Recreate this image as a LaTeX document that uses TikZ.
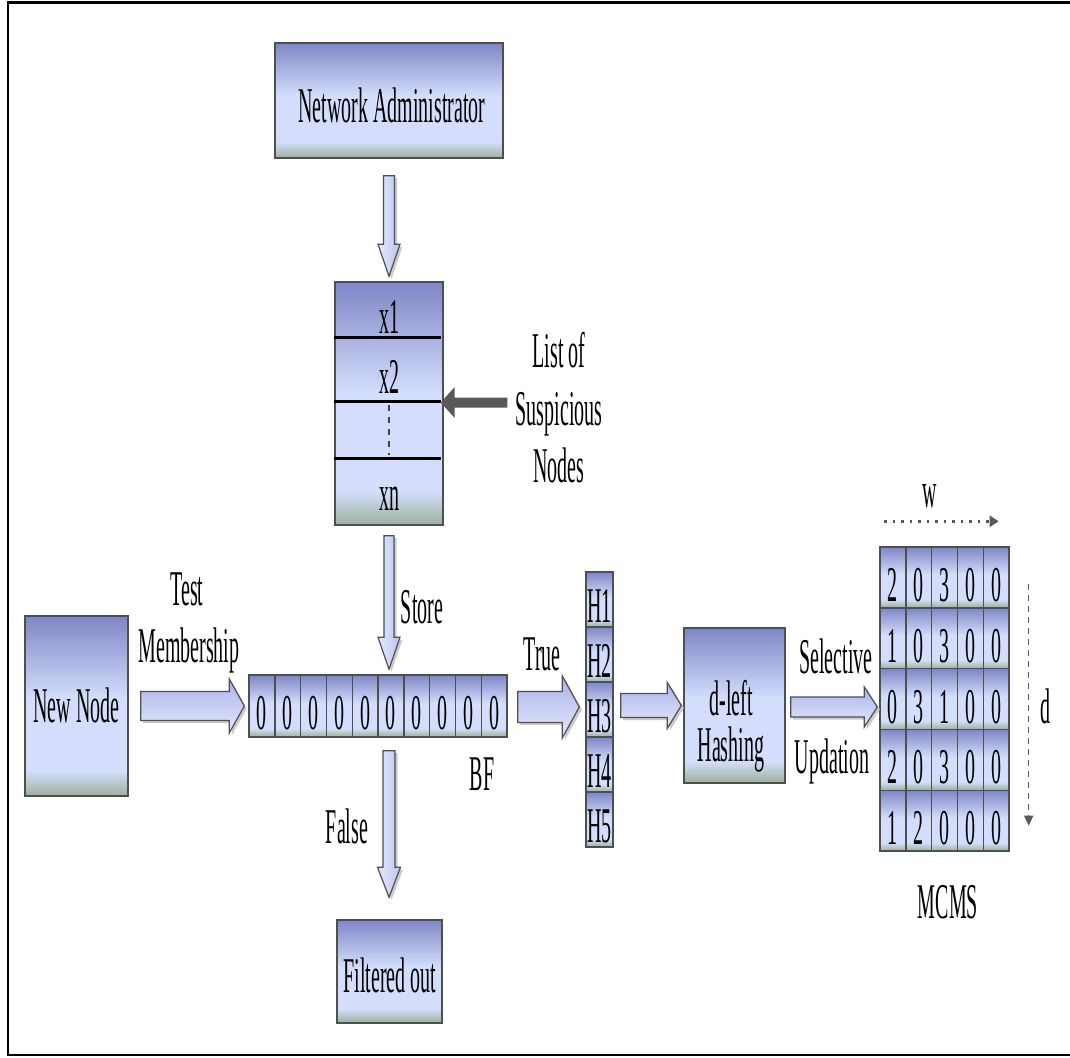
\documentclass[tikz,border=0pt]{standalone}
\usepackage{fontspec}
\setmainfont{Liberation Serif}[FakeStretch=0.40]
\usetikzlibrary{calc,arrows.meta}
\definecolor{bxtop}{HTML}{7F86C6}
\definecolor{bxlight}{HTML}{D4DEFC}
\definecolor{bxbot}{HTML}{9CB09C}
\definecolor{bxline}{HTML}{4F4F4F}
\definecolor{artop}{HTML}{ABB3EA}
\definecolor{arbot}{HTML}{E4E9FD}
\definecolor{grayarrow}{HTML}{595959}
\pgfdeclareverticalshading{boxshade}{100bp}{color(0bp)=(bxbot); color(25bp)=(bxbot); color(32bp)=(bxlight); color(52bp)=(bxlight); color(75bp)=(bxtop); color(100bp)=(bxtop)}
\tikzset{
  box/.style={draw=bxline, line width=1.4pt, shade, shading=boxshade, inner sep=0pt},
  lbl/.style={anchor=base, inner sep=0pt, font=\fontsize{50}{56}\selectfont},
  barrow/.style={draw=bxline, line width=1.2pt, line join=miter},
  hshade/.style={top color=artop, bottom color=arbot},
  vshade/.style={left color=arbot, right color=artop!70!arbot},
  ashadow/.style={fill=black!20},
}
% #1 style, #2 start, #3 tip, #4 shaft half width, #5 head half width, #6 head length
\newcommand\blockarr[6]{%
  \coordinate (ba-s) at #2;
  \coordinate (ba-t) at #3;
  \coordinate (ba-h) at ($(ba-t)!#6pt!(ba-s)$);
  \path[ashadow, transform canvas={shift={(2.5pt,-2.5pt)}}]
    ($(ba-s)!#4pt!90:(ba-t)$) -- ($(ba-h)!#4pt!90:(ba-t)$) -- ($(ba-h)!#5pt!90:(ba-t)$) -- (ba-t)
    -- ($(ba-h)!#5pt!-90:(ba-t)$) -- ($(ba-h)!#4pt!-90:(ba-t)$) -- ($(ba-s)!#4pt!-90:(ba-t)$) -- cycle;
  \path[#1]
    ($(ba-s)!#4pt!90:(ba-t)$) -- ($(ba-h)!#4pt!90:(ba-t)$) -- ($(ba-h)!#5pt!90:(ba-t)$) -- (ba-t)
    -- ($(ba-h)!#5pt!-90:(ba-t)$) -- ($(ba-h)!#4pt!-90:(ba-t)$) -- ($(ba-s)!#4pt!-90:(ba-t)$) -- cycle;
}
\begin{document}
\begin{tikzpicture}[x=1pt,y=-1pt]
\useasboundingbox (0,0) rectangle (1070,1057);
\fill[white] (0,0) rectangle (1070,1057);
% frame
\draw[line width=3pt] (1070,2.5) -- (6.5,2.5);
\draw[line width=2pt] (7.5,1.5) -- (7.5,1055);
\draw[line width=2pt] (6.5,1055) -- (1070,1055);

% Network Administrator
\node[box, minimum width=228pt, minimum height=115pt] (na) at (389,100.5) {};
\node[lbl] (na-t) at (392,122) {Network Administrator};

% list of suspicious nodes
\node[box, minimum width=108pt, minimum height=243pt] (list) at (389,403.5) {};
\draw[line width=2.5pt] ($(list.north west)+(0,56)$) -- ($(list.north east)+(-3,56)$);
\draw[line width=2.5pt] ($(list.north west)+(0,120)$) -- ($(list.north east)+(-3,120)$);
\draw[line width=2.5pt] ($(list.north west)+(0,177)$) -- ($(list.north east)+(-3,177)$);
\draw[black!75, line width=1.2pt, dash pattern=on 6pt off 6pt] ($(list.north)+(0,124)$) -- ($(list.north)+(0,174)$);
\node[lbl] (x1) at (389,333) {x1};
\node[lbl] (x2) at (389,393) {x2};
\node[lbl] (xn) at (389,510) {xn};
\node[lbl] (lst1) at (559,367) {List of};
\node[lbl] (lst2) at (559,425) {Suspicious};
\node[lbl] (lst3) at (559,482) {Nodes};
\coordinate (gs) at ($(lst2.west)+(-8,0)$);
\begin{scope}[ashadow/.style={}]
\blockarr{fill=grayarrow}{(gs |- 0,402.5)}{($(list.east)+(-3,-1)$)}{5}{15.5}{14}
\end{scope}

% New node
\node[box, minimum width=103pt, minimum height=180pt] (newnode) at (76.5,706) {};
\node[lbl] (newnode-t) at (76.5,722) {New Node};
\node[lbl] (test1) at (187,605) {Test};
\node[lbl] (test2) at (189,662) {Membership};

% Bloom filter
\foreach \i in {0,...,9}{
  \node[box, minimum width=25.8pt, minimum height=62pt] (bf\i) at ({249+25.8*(\i+0.5)},706) {};
  \node[lbl] (bf\i t) at ($(bf\i.center)+(0,23)$) {0};
}
\node[lbl] (store) at (422,623) {Store};
\node[lbl] (bflbl) at (482,790) {BF};
\node[lbl] (false) at (347,843) {False};

% Filtered out
\node[box, minimum width=105pt, minimum height=103pt] (filt) at (389.5,971.5) {};
\node[lbl] (filt-t) at (390,992) {Filtered out};

% hash functions
\foreach \j in {1,...,5}{
  \node[box, minimum width=27pt, minimum height=55pt] (h\j) at (599.5,{572+55*(\j-0.5)}) {};
  \node[lbl] (h\j t) at ($(h\j.center)+(0,23)$) {H\j};
}
\node[lbl] (true) at (542,670) {True};

% d-left hashing
\node[box, minimum width=101pt, minimum height=155pt] (dleft) at (734.5,705.5) {};
\node[lbl] (dleft-t1) at (731,715) {d-left};
\node[lbl] (dleft-t2) at (731,761) {Hashing};
\node[lbl] (sel1) at (836,673) {Selective};
\node[lbl] (sel2) at (832,773) {Updation};

% MCMS
\foreach \r/\vals in {1/{2,0,3,0,0},2/{1,0,3,0,0},3/{0,3,1,0,0},4/{2,0,3,0,0},5/{1,2,0,0,0}}{
  \foreach \v [count=\c] in \vals {
    \node[box, minimum width=25.8pt, minimum height=60.8pt] (m\r\c) at ({880+25.8*(\c-0.5)},{547+60.8*(\r-0.5)}) {};
    \node[lbl] (m\r\c t) at ($(m\r\c.center)+(0,24)$) {\v};
  }
}
\node[lbl] (wlbl) at (930,507) {w};
\node[lbl] (dlbl) at (1045,723) {d};
\node[lbl] (mcms) at (948,918) {MCMS};
\coordinate (w1) at ($(m11.north west)+(5,-25)$);
\coordinate (w2) at ($(m15.north east)+(-11,-25)$);
\draw[grayarrow, line width=2.5pt, dash pattern=on 2.5pt off 6pt, -{Triangle[length=9pt,width=11pt]}] (w1) -- (w2);
\coordinate (d1) at ($(m15.north east)+(19,38)$);
\coordinate (d2) at ($(m55.south east)+(19,-26)$);
\draw[grayarrow, line width=1.5pt, dash pattern=on 6pt off 5pt, -{Triangle[length=10pt,width=9pt]}] (d1) -- (d2);

% block arrows
\blockarr{barrow, vshade}{($(na.south)+(0,17)$)}{($(list.north)+(0,-5)$)}{5.5}{11}{32}
\blockarr{barrow, vshade}{($(list.south)+(0,10)$)}{($(list.south |- bf5.north)+(0,-5)$)}{5}{11}{32}
\blockarr{barrow, vshade}{($(list.south |- bf5.south)+(0,13)$)}{($(list.south |- filt.north)+(0,-22)$)}{6}{11.5}{30}
\blockarr{barrow, hshade}{($(newnode.east)+(12,0)$)}{($(bf0.west)+(-4,0)$)}{14.5}{27}{15}
\blockarr{barrow, hshade}{($(bf9.east)+(10,1)$)}{($(bf9.east -| h1.west)+(-6,1)$)}{15.5}{31}{17}
\blockarr{barrow, hshade}{($(h3.east |- dleft.west)+(7,0)$)}{($(dleft.west)+(-2,0)$)}{12}{23}{14}
\blockarr{barrow, hshade}{($(dleft.east)+(5,1.5)$)}{($(dleft.east -| m31.west)+(-2,1.5)$)}{10}{20}{13}
\end{tikzpicture}
\end{document}
